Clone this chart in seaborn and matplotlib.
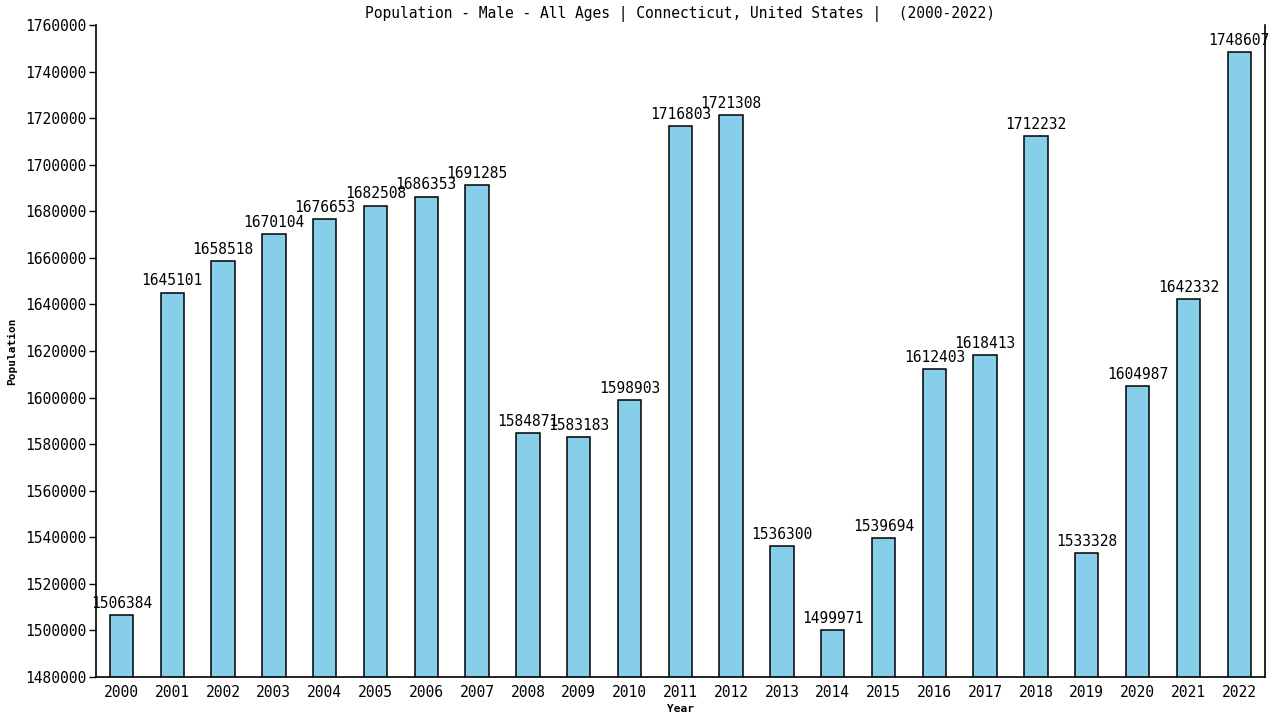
import pandas as pd
import matplotlib
matplotlib.use('Agg')
import matplotlib.pyplot as plt
import seaborn as sns

# Values
years = [str(y) for y in range(2000, 2023)]
population = [
    1506384, 1645101, 1658518, 1670104, 1676653, 1682508, 1686353, 1691285,
    1584871, 1583183, 1598903, 1716803, 1721308, 1536300, 1499971, 1539694,
    1612403, 1618413, 1712232, 1533328, 1604987, 1642332, 1748607,
]
y_ticks = list(range(1480000, 1760001, 20000))

df = pd.DataFrame({'Year': years, 'Population': population})

sns.set_style('white')
plt.rcParams['font.family'] = ['DejaVu Sans Mono', 'DejaVu Sans']
plt.rcParams['text.color'] = 'black'
plt.rcParams['axes.labelcolor'] = 'black'
plt.rcParams['xtick.color'] = 'black'
plt.rcParams['ytick.color'] = 'black'

fig = plt.figure(figsize=(12.8, 7.2), dpi=100)
ax = fig.add_axes([0.075, 0.06, 0.913, 0.905])

sns.barplot(data=df, x='Year', y='Population', color='#87CEEB', saturation=1,
            width=0.46, edgecolor='black', linewidth=1.1, ax=ax)

for container in ax.containers:
    ax.bar_label(container, fmt='%d', padding=3, fontsize=10.5, color='black')

ax.set_ylim(y_ticks[0], y_ticks[-1])
ax.set_yticks(y_ticks)
ax.set_yticklabels([str(t) for t in y_ticks])
ax.set_xlim(-0.5, len(years) - 0.5)
ax.tick_params(axis='y', labelsize=10.5, length=5, width=1, color='black',
               left=True, pad=2)
ax.tick_params(axis='x', labelsize=10.5, length=0, pad=6)

ax.spines['top'].set_visible(False)
for side in ['left', 'bottom', 'right']:
    ax.spines[side].set_color('black')
    ax.spines[side].set_linewidth(1.2)

ax.set_xlabel('Year', fontsize=8, fontweight='bold', labelpad=3)
ax.set_ylabel('Population', fontsize=8, fontweight='bold', labelpad=6)
ax.set_title('Population - Male - All Ages | Connecticut, United States |  (2000-2022)',
             fontsize=10.5, pad=5)

fig.savefig('out.png', dpi=100)
